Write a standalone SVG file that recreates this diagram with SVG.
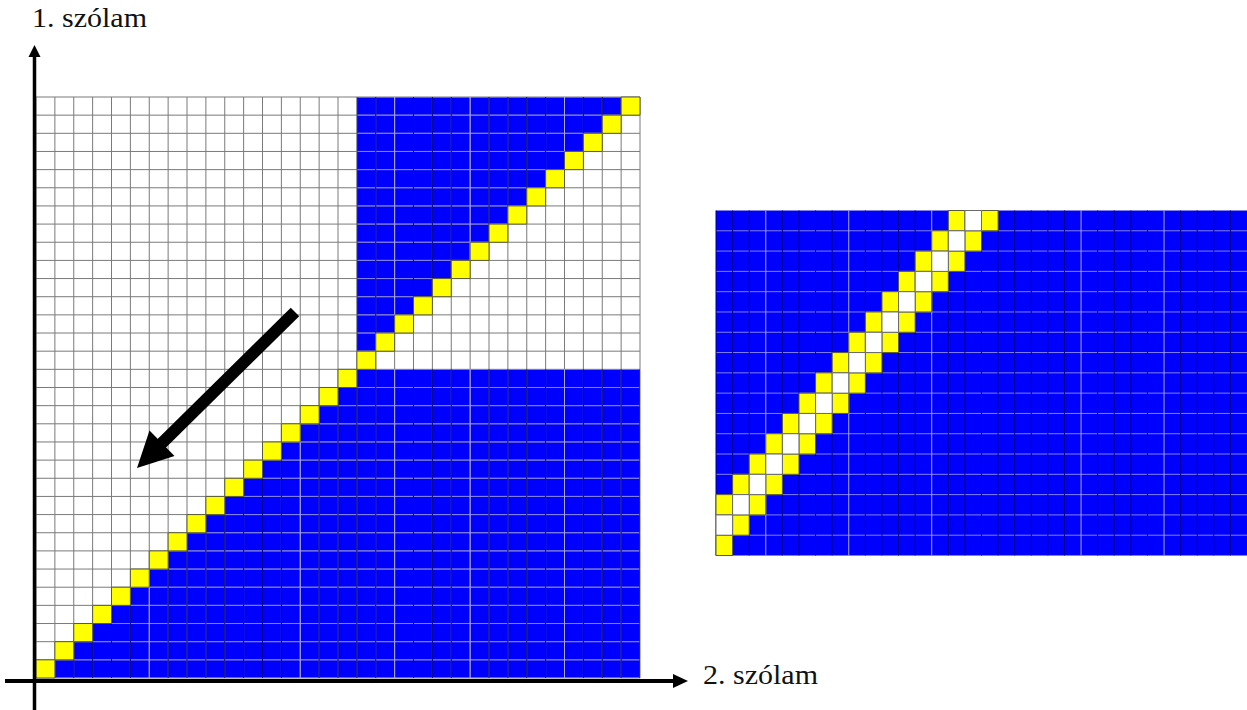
<svg xmlns="http://www.w3.org/2000/svg" xmlns:xlink="http://www.w3.org/1999/xlink" width="1247" height="710" viewBox="0 0 1247 710">
<style>
.gl{fill:none;stroke:#7a7a7a;stroke-width:1}
.hb{fill:none;stroke:#8080ee;stroke-width:1}
.vb{fill:none;stroke:#00008a;stroke-width:1}
.lt{fill:none;stroke:#a8a8ff;stroke-width:1}
.bl{fill:#0000ff}
.y{fill:#ffff00;stroke:#5a5a3a;stroke-width:1}
.w{fill:#ffffff;stroke:#6a6a6a;stroke-width:1}
.lbl{font-family:"Liberation Serif","DejaVu Serif",serif;font-size:28px;fill:#111}
.ax{stroke:#000;fill:none}
</style>
<defs>
<path id="lb1" d="M1,32V31H2V30H3V29H4V28H5V27H6V26H7V25H8V24H9V23H10V22H11V21H12V20H13V19H14V18H15V17H16V16H17V15H32V32Z"/>
<path id="lb2" d="M17,0H31V1H30V2H29V3H28V4H27V5H26V6H25V7H24V8H23V9H22V10H21V11H20V12H19V13H18V14H17Z"/>
<clipPath id="clipL"><use xlink:href="#lb1"/><use xlink:href="#lb2"/></clipPath>
</defs>

<g id="grid-left" transform="translate(36,97) scale(18.875,18.156)">
<rect x="0" y="0" width="32" height="32" fill="#ffffff"/>
<use xlink:href="#lb1" class="bl"/>
<use xlink:href="#lb2" class="bl"/>
<path class="gl" vector-effect="non-scaling-stroke" d="M0,0V32M1,0V32M2,0V32M3,0V32M4,0V32M5,0V32M6,0V32M7,0V32M8,0V32M9,0V32M10,0V32M11,0V32M12,0V32M13,0V32M14,0V32M15,0V32M16,0V32M17,0V32M18,0V32M19,0V32M20,0V32M21,0V32M22,0V32M23,0V32M24,0V32M25,0V32M26,0V32M27,0V32M28,0V32M29,0V32M30,0V32M31,0V32M32,0V32"/>
<path class="gl" vector-effect="non-scaling-stroke" d="M0,0H32M0,1H32M0,2H32M0,3H32M0,4H32M0,5H32M0,6H32M0,7H32M0,8H32M0,9H32M0,10H32M0,11H32M0,12H32M0,13H32M0,14H32M0,15H32M0,16H32M0,17H32M0,18H32M0,19H32M0,20H32M0,21H32M0,22H32M0,23H32M0,24H32M0,25H32M0,26H32M0,27H32M0,28H32M0,29H32M0,30H32M0,31H32M0,32H32"/>
<g clip-path="url(#clipL)">
<path class="hb" vector-effect="non-scaling-stroke" d="M0,0H32M0,1H32M0,2H32M0,3H32M0,4H32M0,5H32M0,6H32M0,7H32M0,8H32M0,9H32M0,10H32M0,11H32M0,12H32M0,13H32M0,14H32M0,15H32M0,16H32M0,17H32M0,18H32M0,19H32M0,20H32M0,21H32M0,22H32M0,23H32M0,24H32M0,25H32M0,26H32M0,27H32M0,28H32M0,29H32M0,30H32M0,31H32M0,32H32"/>
<path class="vb" vector-effect="non-scaling-stroke" d="M1,0V32M2,0V32M3,0V32M4,0V32M5,0V32M7,0V32M8,0V32M9,0V32M10,0V32M11,0V32M12,0V32M13,0V32M15,0V32M16,0V32M17,0V32M18,0V32M20,0V32M21,0V32M22,0V32M24,0V32M25,0V32M26,0V32M27,0V32M29,0V32M30,0V32M31,0V32M32,0V32"/>
<path class="lt" vector-effect="non-scaling-stroke" d="M6,0V32M14,0V32M19,0V32M23,0V32M28,0V32"/>
</g>
<g>
<rect class="y" vector-effect="non-scaling-stroke" x="0" y="31" width="1" height="1"/><rect class="y" vector-effect="non-scaling-stroke" x="1" y="30" width="1" height="1"/><rect class="y" vector-effect="non-scaling-stroke" x="2" y="29" width="1" height="1"/><rect class="y" vector-effect="non-scaling-stroke" x="3" y="28" width="1" height="1"/><rect class="y" vector-effect="non-scaling-stroke" x="4" y="27" width="1" height="1"/><rect class="y" vector-effect="non-scaling-stroke" x="5" y="26" width="1" height="1"/><rect class="y" vector-effect="non-scaling-stroke" x="6" y="25" width="1" height="1"/><rect class="y" vector-effect="non-scaling-stroke" x="7" y="24" width="1" height="1"/><rect class="y" vector-effect="non-scaling-stroke" x="8" y="23" width="1" height="1"/><rect class="y" vector-effect="non-scaling-stroke" x="9" y="22" width="1" height="1"/><rect class="y" vector-effect="non-scaling-stroke" x="10" y="21" width="1" height="1"/><rect class="y" vector-effect="non-scaling-stroke" x="11" y="20" width="1" height="1"/><rect class="y" vector-effect="non-scaling-stroke" x="12" y="19" width="1" height="1"/><rect class="y" vector-effect="non-scaling-stroke" x="13" y="18" width="1" height="1"/><rect class="y" vector-effect="non-scaling-stroke" x="14" y="17" width="1" height="1"/><rect class="y" vector-effect="non-scaling-stroke" x="15" y="16" width="1" height="1"/><rect class="y" vector-effect="non-scaling-stroke" x="16" y="15" width="1" height="1"/><rect class="y" vector-effect="non-scaling-stroke" x="17" y="14" width="1" height="1"/><rect class="y" vector-effect="non-scaling-stroke" x="18" y="13" width="1" height="1"/><rect class="y" vector-effect="non-scaling-stroke" x="19" y="12" width="1" height="1"/><rect class="y" vector-effect="non-scaling-stroke" x="20" y="11" width="1" height="1"/><rect class="y" vector-effect="non-scaling-stroke" x="21" y="10" width="1" height="1"/><rect class="y" vector-effect="non-scaling-stroke" x="22" y="9" width="1" height="1"/><rect class="y" vector-effect="non-scaling-stroke" x="23" y="8" width="1" height="1"/><rect class="y" vector-effect="non-scaling-stroke" x="24" y="7" width="1" height="1"/><rect class="y" vector-effect="non-scaling-stroke" x="25" y="6" width="1" height="1"/><rect class="y" vector-effect="non-scaling-stroke" x="26" y="5" width="1" height="1"/><rect class="y" vector-effect="non-scaling-stroke" x="27" y="4" width="1" height="1"/><rect class="y" vector-effect="non-scaling-stroke" x="28" y="3" width="1" height="1"/><rect class="y" vector-effect="non-scaling-stroke" x="29" y="2" width="1" height="1"/><rect class="y" vector-effect="non-scaling-stroke" x="30" y="1" width="1" height="1"/><rect class="y" vector-effect="non-scaling-stroke" x="31" y="0" width="1" height="1"/>
</g>
</g>

<g id="grid-right" transform="translate(716,210.5) scale(16.594,20.294)">
<rect x="0" y="0" width="32" height="17" class="bl"/>
<path class="hb" vector-effect="non-scaling-stroke" d="M0,0H32M0,1H32M0,2H32M0,3H32M0,4H32M0,5H32M0,6H32M0,7H32M0,8H32M0,9H32M0,10H32M0,11H32M0,12H32M0,13H32M0,14H32M0,15H32M0,16H32M0,17H32"/>
<path class="vb" vector-effect="non-scaling-stroke" d="M0,0V17M1,0V17M2,0V17M4,0V17M5,0V17M6,0V17M7,0V17M9,0V17M10,0V17M11,0V17M12,0V17M14,0V17M15,0V17M16,0V17M17,0V17M18,0V17M19,0V17M20,0V17M21,0V17M23,0V17M24,0V17M25,0V17M26,0V17M28,0V17M29,0V17M30,0V17M31,0V17"/>
<path class="lt" vector-effect="non-scaling-stroke" d="M3,0V17M8,0V17M13,0V17M22,0V17M27,0V17"/>
<g>
<rect class="y" vector-effect="non-scaling-stroke" x="0" y="16" width="1" height="1"/><rect class="y" vector-effect="non-scaling-stroke" x="1" y="15" width="1" height="1"/>
<rect class="y" vector-effect="non-scaling-stroke" x="0" y="14" width="1" height="1"/><rect class="y" vector-effect="non-scaling-stroke" x="2" y="14" width="1" height="1"/>
<rect class="y" vector-effect="non-scaling-stroke" x="1" y="13" width="1" height="1"/><rect class="y" vector-effect="non-scaling-stroke" x="3" y="13" width="1" height="1"/>
<rect class="y" vector-effect="non-scaling-stroke" x="2" y="12" width="1" height="1"/><rect class="y" vector-effect="non-scaling-stroke" x="4" y="12" width="1" height="1"/>
<rect class="y" vector-effect="non-scaling-stroke" x="3" y="11" width="1" height="1"/><rect class="y" vector-effect="non-scaling-stroke" x="5" y="11" width="1" height="1"/>
<rect class="y" vector-effect="non-scaling-stroke" x="4" y="10" width="1" height="1"/><rect class="y" vector-effect="non-scaling-stroke" x="6" y="10" width="1" height="1"/>
<rect class="y" vector-effect="non-scaling-stroke" x="5" y="9" width="1" height="1"/><rect class="y" vector-effect="non-scaling-stroke" x="7" y="9" width="1" height="1"/>
<rect class="y" vector-effect="non-scaling-stroke" x="6" y="8" width="1" height="1"/><rect class="y" vector-effect="non-scaling-stroke" x="8" y="8" width="1" height="1"/>
<rect class="y" vector-effect="non-scaling-stroke" x="7" y="7" width="1" height="1"/><rect class="y" vector-effect="non-scaling-stroke" x="9" y="7" width="1" height="1"/>
<rect class="y" vector-effect="non-scaling-stroke" x="8" y="6" width="1" height="1"/><rect class="y" vector-effect="non-scaling-stroke" x="10" y="6" width="1" height="1"/>
<rect class="y" vector-effect="non-scaling-stroke" x="9" y="5" width="1" height="1"/><rect class="y" vector-effect="non-scaling-stroke" x="11" y="5" width="1" height="1"/>
<rect class="y" vector-effect="non-scaling-stroke" x="10" y="4" width="1" height="1"/><rect class="y" vector-effect="non-scaling-stroke" x="12" y="4" width="1" height="1"/>
<rect class="y" vector-effect="non-scaling-stroke" x="11" y="3" width="1" height="1"/><rect class="y" vector-effect="non-scaling-stroke" x="13" y="3" width="1" height="1"/>
<rect class="y" vector-effect="non-scaling-stroke" x="12" y="2" width="1" height="1"/><rect class="y" vector-effect="non-scaling-stroke" x="14" y="2" width="1" height="1"/>
<rect class="y" vector-effect="non-scaling-stroke" x="13" y="1" width="1" height="1"/><rect class="y" vector-effect="non-scaling-stroke" x="15" y="1" width="1" height="1"/>
<rect class="y" vector-effect="non-scaling-stroke" x="14" y="0" width="1" height="1"/><rect class="y" vector-effect="non-scaling-stroke" x="16" y="0" width="1" height="1"/>
<rect class="w" vector-effect="non-scaling-stroke" x="0" y="15" width="1" height="1"/><rect class="w" vector-effect="non-scaling-stroke" x="1" y="14" width="1" height="1"/><rect class="w" vector-effect="non-scaling-stroke" x="2" y="13" width="1" height="1"/><rect class="w" vector-effect="non-scaling-stroke" x="3" y="12" width="1" height="1"/><rect class="w" vector-effect="non-scaling-stroke" x="4" y="11" width="1" height="1"/><rect class="w" vector-effect="non-scaling-stroke" x="5" y="10" width="1" height="1"/><rect class="w" vector-effect="non-scaling-stroke" x="6" y="9" width="1" height="1"/><rect class="w" vector-effect="non-scaling-stroke" x="7" y="8" width="1" height="1"/><rect class="w" vector-effect="non-scaling-stroke" x="8" y="7" width="1" height="1"/><rect class="w" vector-effect="non-scaling-stroke" x="9" y="6" width="1" height="1"/><rect class="w" vector-effect="non-scaling-stroke" x="10" y="5" width="1" height="1"/><rect class="w" vector-effect="non-scaling-stroke" x="11" y="4" width="1" height="1"/><rect class="w" vector-effect="non-scaling-stroke" x="12" y="3" width="1" height="1"/><rect class="w" vector-effect="non-scaling-stroke" x="13" y="2" width="1" height="1"/><rect class="w" vector-effect="non-scaling-stroke" x="14" y="1" width="1" height="1"/><rect class="w" vector-effect="non-scaling-stroke" x="15" y="0" width="1" height="1"/>
</g>
</g>

<g id="connectors">
<g id="axis-y">
<line class="ax" x1="34.5" y1="710" x2="34.5" y2="54" stroke-width="3.5"/>
<polygon points="34.5,45 28.5,57 40.5,57" fill="#000"/>
</g>
<g id="axis-x">
<line class="ax" x1="5" y1="681" x2="676" y2="681" stroke-width="4"/>
<polygon points="688,681 673,674 673,688" fill="#000"/>
</g>
<g id="big-arrow">
<line class="ax" x1="295" y1="312" x2="160" y2="445" stroke-width="12"/>
<polygon points="137,468 149.5,430.5 174.5,456" fill="#000"/>
</g>
</g>

<g id="label-y"><text class="lbl" x="32" y="27" textLength="115" lengthAdjust="spacingAndGlyphs">1. szólam</text></g>
<g id="label-x"><text class="lbl" x="703" y="684" textLength="115" lengthAdjust="spacingAndGlyphs">2. szólam</text></g>
</svg>
